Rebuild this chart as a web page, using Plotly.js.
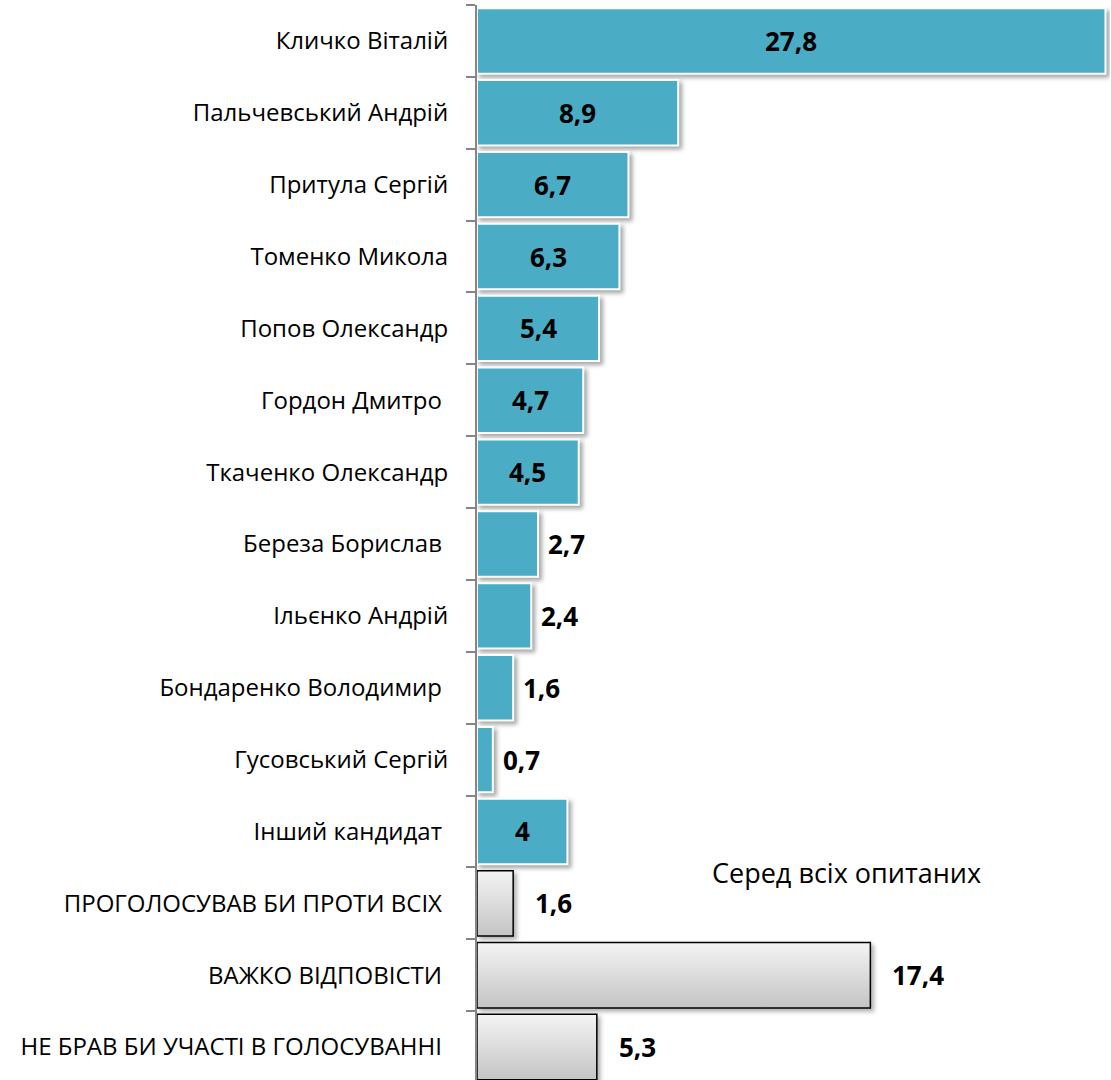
<!DOCTYPE html>
<html>
<head>
<meta charset="utf-8">
<script src="https://cdn.plot.ly/plotly-3.0.1.min.js"></script>
<style>
  html, body { margin: 0; padding: 0; background: #fff; overflow: hidden; }
  #chart { width: 1111px; height: 1085px; }
  .barlayer .trace:nth-child(1) .point path { filter: drop-shadow(3px 3px 2px rgba(0,0,0,0.35)); }
  .barlayer .trace:nth-child(2) .point path { fill: url(#grayGrad) !important; filter: drop-shadow(3px 3px 2px rgba(0,0,0,0.3)); }
</style>
</head>
<body>
<svg width="0" height="0" style="position:absolute">
  <defs>
    <linearGradient id="grayGrad" x1="0" y1="0" x2="0" y2="1">
      <stop offset="0" stop-color="#f4f4f4"/>
      <stop offset="1" stop-color="#c4c4c4"/>
    </linearGradient>
  </defs>
</svg>
<div id="chart"></div>
<script>
const candidates = [
  "Кличко Віталій",
  "Пальчевський Андрій",
  "Притула Сергій",
  "Томенко Микола",
  "Попов Олександр",
  "Гордон Дмитро\u00a0",
  "Ткаченко Олександр",
  "Береза Борислав\u00a0",
  "Ільєнко Андрій",
  "Бондаренко Володимир\u00a0",
  "Гусовський Сергій",
  "Інший кандидат\u00a0"
];
const candidateValues = [27.8, 8.9, 6.7, 6.3, 5.4, 4.7, 4.5, 2.7, 2.4, 1.6, 0.7, 4];

const others = [
  "ПРОГОЛОСУВАВ БИ ПРОТИ ВСІХ\u00a0",
  "ВАЖКО ВІДПОВІСТИ\u00a0",
  "НЕ БРАВ БИ УЧАСТІ В ГОЛОСУВАННІ\u00a0"
];
const otherValues = [1.6, 17.4, 5.3];

const noteText = "Серед всіх опитаних";

const allCats = candidates.concat(others);

const fmt = v => String(v).replace('.', ',');

const labelFont = { family: "Open Sans, sans-serif", size: 26, color: "#000" };
const annotations = [];
candidates.forEach((c, i) => {
  const v = candidateValues[i];
  if (v >= 4) {
    annotations.push({ x: v / 2, y: c, text: "<b>" + fmt(v) + "</b>", showarrow: false,
      xanchor: "center", yanchor: "middle", font: labelFont });
  } else {
    annotations.push({ x: v, y: c, text: "<b>" + fmt(v) + "</b>", showarrow: false,
      xanchor: "left", yanchor: "middle", xshift: 8, font: labelFont });
  }
});
others.forEach((c, i) => {
  const v = otherValues[i];
  annotations.push({ x: v, y: c, text: "<b>" + fmt(v) + "</b>", showarrow: false,
    xanchor: "left", yanchor: "middle", xshift: 20, font: labelFont });
});
annotations.push({ xref: "paper", yref: "paper", x: 0.583, y: 0.195, text: noteText,
  showarrow: false, xanchor: "center", yanchor: "middle",
  font: { family: "Open Sans, sans-serif", size: 27, color: "#000" } });

const data = [
  {
    type: "bar", orientation: "h", y: candidates, x: candidateValues,
    marker: { color: "#4BACC6", line: { color: "#ffffff", width: 2 } },
    hoverinfo: "none"
  },
  {
    type: "bar", orientation: "h", y: others, x: otherValues,
    marker: { color: "#dcdcdc", line: { color: "#000000", width: 1.5 } },
    hoverinfo: "none"
  }
];

const layout = {
  width: 1111, height: 1085,
  margin: { l: 477, r: 1, t: 5, b: 2 },
  paper_bgcolor: "#fff", plot_bgcolor: "#fff",
  barmode: "overlay", bargap: 0.09,
  showlegend: false,
  separators: ", ",
  font: { family: "Open Sans, sans-serif", size: 24, color: "#000" },
  xaxis: { range: [0, 28], showgrid: false, zeroline: false, showticklabels: false,
    showline: false, ticks: "" , fixedrange: true},
  yaxis: { type: "category", categoryorder: "array", categoryarray: allCats,
    autorange: "reversed", showline: true, linecolor: "#868686", linewidth: 2,
    ticks: "outside", tickson: "boundaries", ticklen: 9, tickcolor: "#868686", tickwidth: 2,
    ticklabelstandoff: 22, showgrid: false, zeroline: false,
    tickfont: { family: "Open Sans, sans-serif", size: 24, color: "#000" } },
  annotations: annotations
};

Plotly.newPlot("chart", data, layout, { displayModeBar: false, staticPlot: true });
</script>
</body>
</html>
